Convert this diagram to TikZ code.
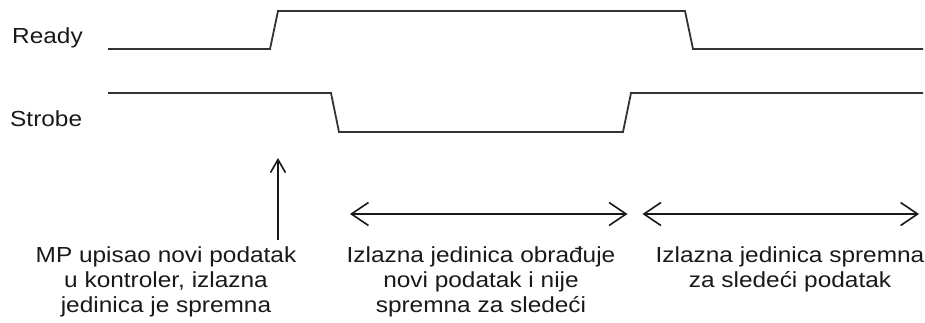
\documentclass[tikz,border=0pt]{standalone}
\usepackage{fontspec}
\setmainfont[FakeStretch=1.12]{Liberation Sans}
\usetikzlibrary{arrows.meta}
\begin{document}
\begin{tikzpicture}[x=1pt,y=-1pt,
  wave/.style={line width=1.8pt,draw=black!80,line join=miter},
  marker/.style={line width=1.6pt,draw=black!90},
  label/.style={font=\fontsize{21.8}{25}\selectfont,text=black!90,inner sep=0pt},
  note/.style={label,align=center,anchor=base}]
  \useasboundingbox (0,0) rectangle (925,322);

  % signal names
  \node[label,anchor=base west] (ready) at (12,43.3) {Ready};
  \node[label,anchor=base west] (strobe) at (10,126) {Strobe};

  % Ready waveform
  \draw[wave] (108,49) -- (270,49) -- (278,11) -- (685,11) -- (693,49) -- (923,49);
  % Strobe waveform
  \draw[wave] (108,93) -- (331,93) -- (339,132) -- (623,132) -- (631,93) -- (923,93);

  % event marker and intervals
  \coordinate (evbot) at (278,240);
  \coordinate (evtop) at (278,158);
  \draw[marker,-{Straight Barb[length=13pt,width=15pt]}] (evbot) -- (evtop);

  \coordinate (busyL) at (350,214);
  \coordinate (busyR) at (627.5,214);
  \coordinate (freeL) at (642.5,214);
  \coordinate (freeR) at (919,214);
  \draw[marker,{Straight Barb[length=17pt,width=23pt]}-{Straight Barb[length=17pt,width=23pt]}] (busyL) -- (busyR);
  \draw[marker,{Straight Barb[length=17pt,width=23pt]}-{Straight Barb[length=17pt,width=23pt]}] (freeL) -- (freeR);

  % descriptions (base anchor sits on the last line)
  \node[note] (t1) at (166,312.7) {MP upisao novi podatak\\u kontroler, izlazna\\jedinica je spremna};
  \node[note] (t2) at (481,312.7) {Izlazna jedinica obrađuje\\novi podatak i nije\\spremna za sledeći};
  \node[note] (t3) at (790,287.7) {Izlazna jedinica spremna\\za sledeći podatak};
\end{tikzpicture}
\end{document}
